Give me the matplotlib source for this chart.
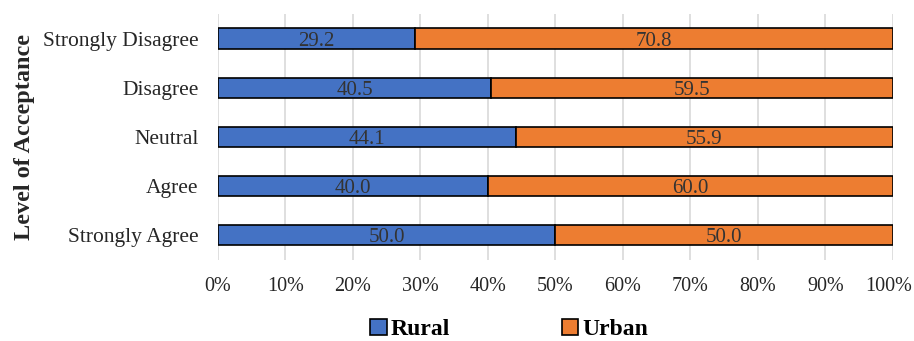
import numpy as np
import matplotlib.pyplot as plt
from matplotlib.transforms import ScaledTranslation

plt.rcParams['font.family'] = ['Liberation Serif', 'DejaVu Serif']

levels = ['Strongly Agree', 'Agree', 'Neutral', 'Disagree', 'Strongly Disagree']
rural = [50.0, 40.0, 44.1, 40.5, 29.2]
urban = [50.0, 60.0, 55.9, 59.5, 70.8]

blue = '#4472C4'
orange = '#ED7D31'
txt = '#262626'

fig = plt.figure(figsize=(9.14, 3.41), dpi=100)
ax = fig.add_axes([0.2385, 0.2375, 0.7385, 0.7215])

y = np.arange(len(levels))
h = 0.41
ax.barh(y, rural, height=h, color=blue, edgecolor='black', linewidth=1.2, label='Rural', zorder=3)
ax.barh(y, urban, left=rural, height=h, color=orange, edgecolor='black', linewidth=1.2, label='Urban', zorder=3)

for i in range(len(levels)):
    ax.text(rural[i] / 2, y[i], f'{rural[i]:.1f}', ha='center', va='center_baseline', fontsize=15, color='#333333', zorder=4)
    ax.text(rural[i] + urban[i] / 2, y[i], f'{urban[i]:.1f}', ha='center', va='center_baseline', fontsize=15, color='#333333', zorder=4)

ax.set_xlim(0, 100)
ax.set_ylim(-0.5, 4.5)
ax.set_xticks(np.arange(0, 101, 10))
ax.set_xticklabels([f'{v}%' for v in range(0, 101, 10)])
ax.set_yticks(y)
ax.set_yticklabels(levels)
ax.tick_params(axis='both', length=0, labelsize=15.5, colors=txt)
ax.tick_params(axis='x', labelsize=14.5, pad=12)
ax.tick_params(axis='y', pad=14)
ax.grid(axis='x', color='#d9d9d9', linewidth=1.2, zorder=0)
for s in ax.spines.values():
    s.set_visible(False)

# keep the "100%" label inside the figure edge
last = ax.get_xticklabels()[-1]
last.set_transform(last.get_transform() + ScaledTranslation(-3 / 72, 0, fig.dpi_scale_trans))

ax.set_ylabel('Level of Acceptance', fontsize=17.5, fontweight='bold', color=txt, labelpad=6)

fig.legend(loc='lower center', bbox_to_anchor=(0.557, -0.06), ncol=2, frameon=False,
           prop={'size': 17, 'weight': 'bold'}, columnspacing=4.75, handlelength=0.7,
           handleheight=0.7, handletextpad=0.15)

fig.savefig('out.png', dpi=100)
